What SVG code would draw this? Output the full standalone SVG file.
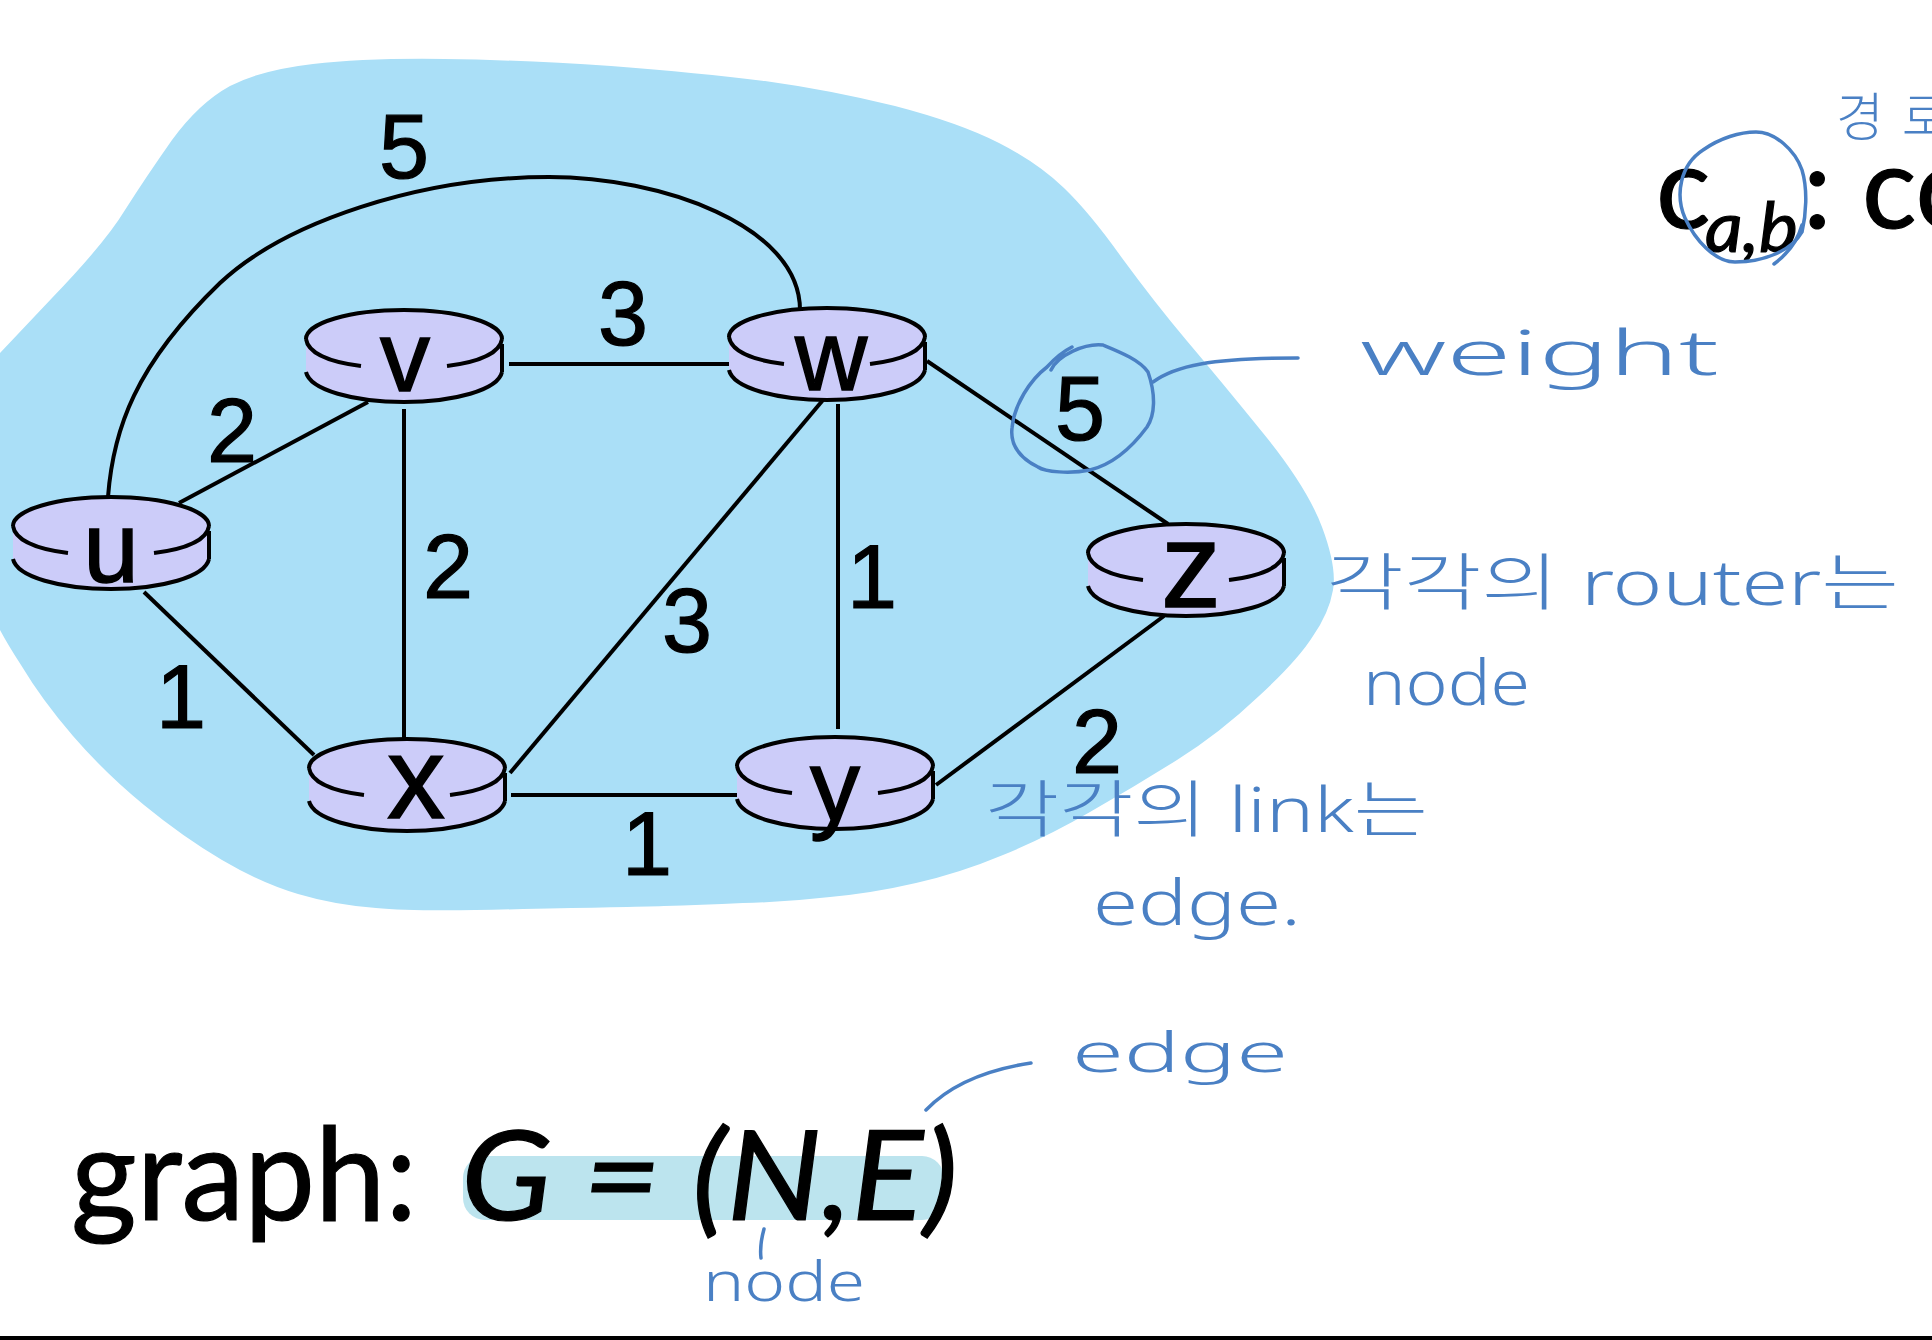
<svg xmlns="http://www.w3.org/2000/svg" width="1932" height="1340" viewBox="0 0 1932 1340">
<style>
.edge{fill:none;stroke:#000;stroke-width:4}
.ink{fill:none;stroke:#4a80c4;stroke-width:3.5;stroke-linecap:round}
.num{font:90px "Liberation Sans",Arial,sans-serif;fill:#000;stroke:#000;stroke-width:1.2;text-anchor:middle}
.lab{font-family:"Liberation Sans",Arial,sans-serif;fill:#000;stroke:#000;stroke-width:1.5;text-anchor:middle}
.hand{font-family:"Noto Sans","Noto Sans CJK KR",sans-serif;font-weight:300;fill:#4a80c4}
.slide{font-family:Lato,"Liberation Sans",sans-serif;fill:#000;stroke:#000;stroke-width:1.2}
.body{fill:#ccccf9;stroke:none}
.rim{fill:none;stroke:#000;stroke-width:4}
</style>
<defs>
<g id="router">
<path class="body" d="M-98,29 A98,29 0 0 1 98,29 L98,64 A98,29 0 0 1 -98,64 Z"/>
<path class="rim" d="M-98,29 A98,29 0 0 1 98,29"/>
<path class="rim" d="M-98,29 C-96,43 -75,52 -43,56 M43,56 C75,52 96,43 98,29"/>
<path class="rim" d="M-98,62 C-94,80 -50,92 0,92 C50,92 94,80 98,62"/>
<path class="rim" d="M98,34 L98,62"/>
</g>
</defs>
<rect width="1932" height="1340" fill="#fff"/>
<path id="network-cloud" fill="#aadff7" d="M0,353 L52,298 Q105,243 125,210 Q146,177 172,140 Q199,103 230,86 Q261,70 313,64 Q366,58 444,59 Q523,60 611,66 Q700,73 765,81 Q830,90 895,106 Q960,123 999,143 Q1038,163 1064,188 Q1090,213 1122,258 Q1155,303 1187,341 Q1220,380 1263,433 Q1307,487 1322,527 Q1337,567 1333,590 Q1329,613 1313,636 Q1298,660 1259,696 Q1220,733 1177,760 Q1134,787 1090,812 Q1047,837 1003,855 Q960,873 916,883 Q873,893 830,897 Q787,902 743,903 Q700,905 664,906 Q628,907 523,909 Q418,912 376,908 Q335,905 298,894 Q261,883 222,860 Q183,837 144,805 Q105,773 73,736 Q42,700 21,665 Q8,645 0,630 Z"/>
<g id="connectors">
<path class="edge" d="M108,497 C113,430 135,365 220,283 C285,222 420,177 549,177 C660,177 800,225 800,310"/>
<line class="edge" x1="179" y1="503" x2="368" y2="402"/>
<line class="edge" x1="404" y1="409" x2="404" y2="739"/>
<line class="edge" x1="509" y1="364" x2="731" y2="364"/>
<line class="edge" x1="927" y1="361" x2="1168" y2="524"/>
<line class="edge" x1="144" y1="592" x2="314" y2="755"/>
<line class="edge" x1="510" y1="773" x2="823" y2="400"/>
<line class="edge" x1="838" y1="404" x2="838" y2="729"/>
<line class="edge" x1="511" y1="795" x2="737" y2="795"/>
<line class="edge" x1="936" y1="785" x2="1164" y2="616"/>
</g>
<g id="edge-labels">
<text class="num" x="404" y="178">5</text>
<text class="num" x="623" y="345">3</text>
<text class="num" x="232" y="462">2</text>
<text class="num" x="448" y="598">2</text>
<text class="num" x="181" y="728">1</text>
<text class="num" x="687" y="652">3</text>
<text class="num" x="872" y="608">1</text>
<text class="num" x="1080" y="440">5</text>
<text class="num" x="1097" y="773">2</text>
<text class="num" x="647" y="875">1</text>
</g>
<g id="node-u"><use href="#router" x="111" y="497"/><text class="lab" x="111" y="582" font-size="100">u</text></g>
<g id="node-v"><use href="#router" x="404" y="310"/><text class="lab" x="405" y="391" font-size="100">v</text></g>
<g id="node-w"><use href="#router" x="827" y="308"/><text class="lab" x="831" y="390" font-size="100">w</text></g>
<g id="node-x"><use href="#router" x="407" y="739"/><text class="lab" x="416" y="818" font-size="116">x</text></g>
<g id="node-y"><use href="#router" x="835" y="737"/><text class="lab" x="835" y="820" font-size="100">y</text></g>
<g id="node-z"><use href="#router" x="1186" y="524"/><text class="lab" x="1191" y="607" font-size="120">z</text></g>
<g id="formula">
<rect x="463" y="1156" width="481" height="64" rx="22" fill="#bce4ee"/>
<text class="slide" x="71" y="1220" font-size="130" textLength="346" lengthAdjust="spacingAndGlyphs">graph:</text>
<text class="slide" x="461" y="1220" font-size="124" font-style="italic" textLength="497" lengthAdjust="spacingAndGlyphs">G = (N,E)</text>
<text class="slide" x="1656" y="228" font-size="114" stroke-width="3">c</text>
<text class="slide" x="1705" y="252" font-size="70" font-style="italic" stroke-width="1.5" textLength="93" lengthAdjust="spacingAndGlyphs">a,b</text>
<text class="slide" x="1803" y="228" font-size="114" stroke-width="3">:</text>
<text class="slide" x="1862" y="228" font-size="114" stroke-width="3">co</text>
</g>
<g id="annotations">
<path class="ink" d="M1756,132 C1775,132 1795,150 1802,170 C1808,190 1806,215 1802,232 C1792,250 1765,262 1735,262 C1715,262 1695,240 1685,218 C1675,195 1680,165 1703,150 C1720,138 1740,132 1756,132 Z"/>
<path class="ink" d="M1802,225 C1798,240 1790,252 1774,264"/>
<path class="ink" d="M1051,370 C1058,355 1085,343 1103,345 C1120,352 1140,360 1148,372 C1156,395 1155,415 1147,427 C1130,450 1110,465 1090,470 C1070,474 1045,472 1038,467 C1020,458 1010,445 1012,428 C1014,405 1030,380 1047,367 C1055,358 1062,352 1072,347"/>
<path class="ink" d="M1153,382 C1175,366 1210,358 1298,358"/>
<path class="ink" d="M1031,1063 C985,1070 950,1085 926,1110"/>
<path class="ink" d="M764,1229 C761,1240 760,1250 761,1258"/>
<text class="hand" x="1836" y="136" font-size="52" letter-spacing="18">경로</text>
<text class="hand" x="1360" y="375" font-size="62" textLength="359" lengthAdjust="spacingAndGlyphs">weight</text>
<text class="hand" x="1326" y="605" font-size="62" textLength="573" lengthAdjust="spacingAndGlyphs">각각의 router는</text>
<text class="hand" x="1363" y="705" font-size="62" textLength="167" lengthAdjust="spacingAndGlyphs">node</text>
<text class="hand" x="985" y="832" font-size="62" textLength="443" lengthAdjust="spacingAndGlyphs">각각의 link는</text>
<text class="hand" x="1093" y="925" font-size="62" textLength="208" lengthAdjust="spacingAndGlyphs">edge.</text>
<text class="hand" x="1072" y="1072" font-size="56" textLength="216" lengthAdjust="spacingAndGlyphs">edge</text>
<text class="hand" x="703" y="1301" font-size="56" textLength="162" lengthAdjust="spacingAndGlyphs">node</text>
</g>
<rect id="bottom-bar" x="0" y="1336" width="1932" height="4" fill="#000"/>
</svg>
